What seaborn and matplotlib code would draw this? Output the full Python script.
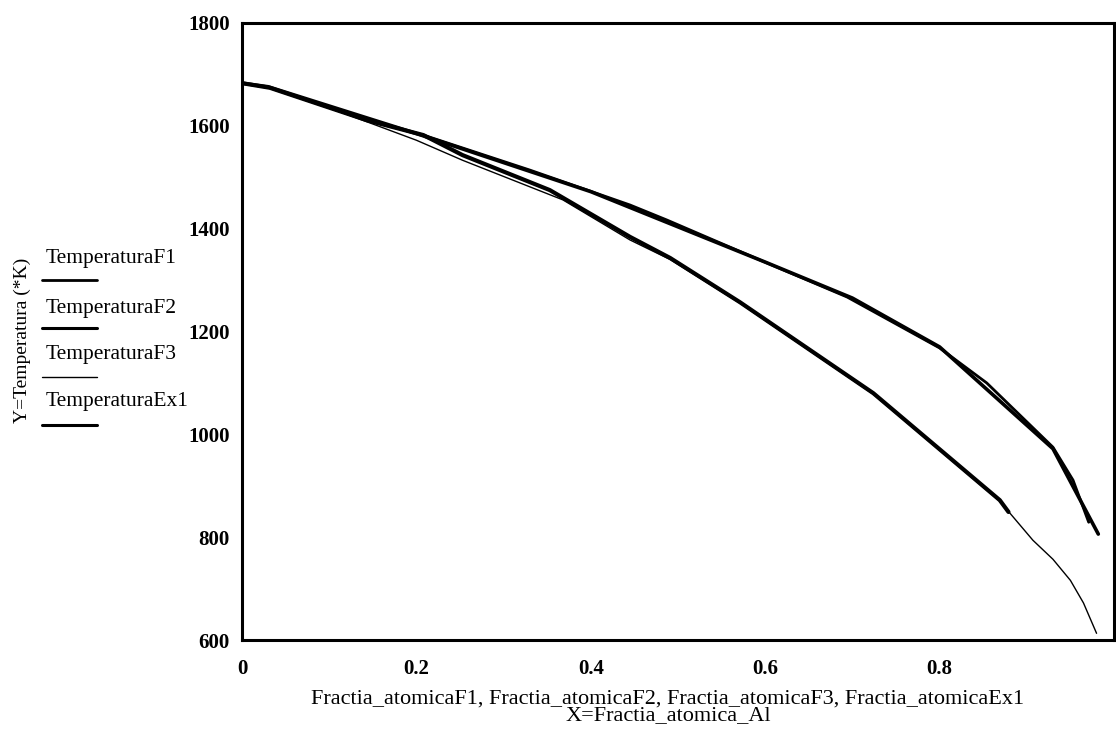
import matplotlib
matplotlib.use("Agg")
import matplotlib.pyplot as plt
import seaborn as sns
import pandas as pd

sns.set_theme(style="white")
plt.rcParams["font.family"] = ["Liberation Serif", "DejaVu Serif"]
plt.rcParams["text.color"] = "black"
plt.rcParams["xtick.color"] = "black"
plt.rcParams["ytick.color"] = "black"

# Liquidus temperatures vs. atomic fraction of Al
x_f1 = [0, 0.032, 0.143, 0.208, 0.330, 0.445, 0.487, 0.594, 0.694, 0.800, 0.854, 0.930, 0.953, 0.971]
y_f1 = [1683, 1674, 1611, 1582, 1514, 1446, 1417, 1339, 1267, 1168, 1100, 975, 911, 829]

x_f2 = [0, 0.032, 0.143, 0.208, 0.253, 0.353, 0.445, 0.491, 0.571, 0.724, 0.869, 0.879]
y_f2 = [1683, 1674, 1611, 1582, 1543, 1475, 1384, 1343, 1257, 1080, 872, 849]

x_f3 = [0, 0.032, 0.100, 0.143, 0.200, 0.253, 0.368, 0.445, 0.491, 0.571, 0.724,
        0.869, 0.907, 0.930, 0.950, 0.965, 0.980]
y_f3 = [1683, 1674, 1635, 1608, 1572, 1533, 1456, 1378, 1340, 1255, 1078,
        870, 794, 757, 716, 672, 613]

x_ex1 = [0, 0.030, 0.200, 0.400, 0.600, 0.700, 0.800, 0.930, 0.982]
y_ex1 = [1683, 1676, 1585, 1472, 1335, 1265, 1170, 972, 806]

series_names = ["TemperaturaF1", "TemperaturaF2", "TemperaturaF3", "TemperaturaEx1"]
series_x = [x_f1, x_f2, x_f3, x_ex1]
series_y = [y_f1, y_f2, y_f3, y_ex1]
widths = [2.0, 3.0, 1.0, 2.6]

xticks = [0, 0.2, 0.4, 0.6, 0.8]
xtick_labels = ["0", "0.2", "0.4", "0.6", "0.8"]
yticks = [600, 800, 1000, 1200, 1400, 1600, 1800]

fig = plt.figure(figsize=(11.16, 7.30), dpi=100)
ax = fig.add_axes([242 / 1116, 1 - 640 / 730, (1114 - 242) / 1116, (640 - 23) / 730])

for name, xs, ys, lw in zip(series_names, series_x, series_y, widths):
    df = pd.DataFrame({"x": xs, "y": ys})
    sns.lineplot(data=df, x="x", y="y", ax=ax, color="black", linewidth=lw,
                 sort=False, estimator=None)

ax.set_xlim(0, 1)
ax.set_ylim(600, 1800)
ax.set_xticks(xticks)
ax.set_xticklabels(xtick_labels)
ax.set_yticks(yticks)
ax.tick_params(axis="both", labelsize=15, length=0, colors="black")
ax.tick_params(axis="x", pad=14)
ax.tick_params(axis="y", pad=9)
for lab in ax.get_xticklabels() + ax.get_yticklabels():
    lab.set_fontweight("bold")

for sp in ax.spines.values():
    sp.set_visible(True)
    sp.set_color("black")
    sp.set_linewidth(2.2)

ax.set_xlabel("")
ax.set_ylabel("")

fig.text(668 / 1116, 1 - 707 / 730,
         "Fractia_atomicaF1, Fractia_atomicaF2, Fractia_atomicaF3, Fractia_atomicaEx1\n"
         "X=Fractia_atomica_Al",
         ha="center", va="center", fontsize=16, linespacing=0.8)

fig.text(22 / 1116, 1 - 340 / 730, "Y=Temperatura (*K)", rotation=90,
         ha="center", va="center", fontsize=14)

# legend-like labels stacked beside the y axis
label_y = [258, 308, 355, 402]
line_y = [280, 328, 377, 425]
for name, ty, ly, lw in zip(series_names, label_y, line_y, widths):
    fig.text(46 / 1116, 1 - ty / 730, name, ha="left", va="center", fontsize=15.5)
    fig.add_artist(plt.Line2D([42 / 1116, 97 / 1116], [1 - ly / 730, 1 - ly / 730],
                              color="black", linewidth=min(lw, 2.2),
                              transform=fig.transFigure))

fig.savefig("out.png", dpi=100, facecolor="white")
